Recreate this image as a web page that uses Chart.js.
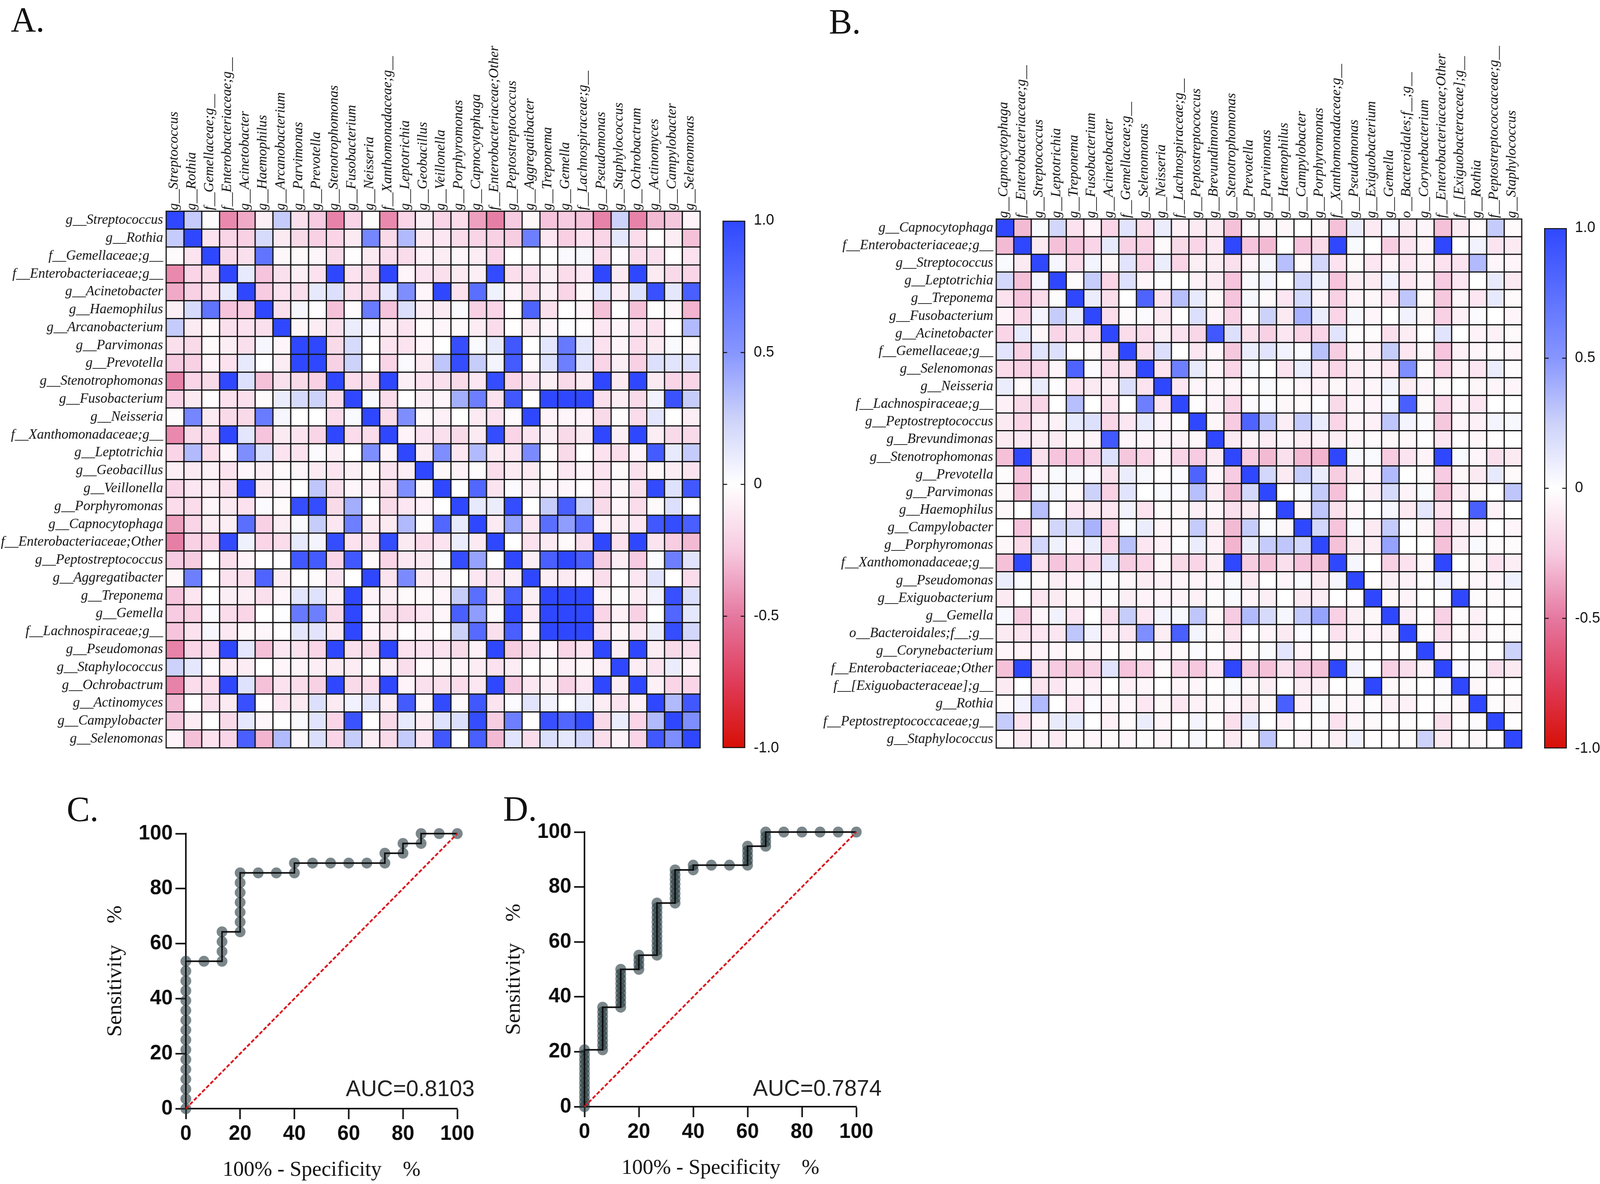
<!DOCTYPE html>
<html><head><meta charset="utf-8">
<script src="https://cdn.jsdelivr.net/npm/chart.js@4"></script>
<style>
html,body{margin:0;padding:0;background:#fff;overflow:hidden}
#page{position:absolute;left:0;top:0;width:4150px;height:3031px;transform-origin:0 0;background:#fff}
canvas{position:absolute;display:block}
.t{position:absolute;white-space:pre;line-height:1;color:#111}
.p{font:90px "Liberation Serif"}
.a{font:58px "Liberation Sans";color:#222}
</style></head><body>
<div id="page">
<div class="t p" style="left:28px;top:-1px">A.</div>
<div class="t p" style="left:2150px;top:4px">B.</div>
<div class="t p" style="left:173px;top:2020px">C.</div>
<div class="t p" style="left:1305px;top:2019px">D.</div>
<div class="t a" style="left:897px;top:2752px">AUC=0.8103</div>
<div class="t a" style="left:1953px;top:2751px">AUC=0.7874</div>
</div>
<script>
const labelsA=["g__Streptococcus","g__Rothia","f__Gemellaceae;g__","f__Enterobacteriaceae;g__","g__Acinetobacter","g__Haemophilus","g__Arcanobacterium","g__Parvimonas","g__Prevotella","g__Stenotrophomonas","g__Fusobacterium","g__Neisseria","f__Xanthomonadaceae;g__","g__Leptotrichia","g__Geobacillus","g__Veillonella","g__Porphyromonas","g__Capnocytophaga","f__Enterobacteriaceae;Other","g__Peptostreptococcus","g__Aggregatibacter","g__Treponema","g__Gemella","f__Lachnospiraceae;g__","g__Pseudomonas","g__Staphylococcus","g__Ochrobactrum","g__Actinomyces","g__Campylobacter","g__Selenomonas"];
const labelsB=["g__Capnocytophaga","f__Enterobacteriaceae;g__","g__Streptococcus","g__Leptotrichia","g__Treponema","g__Fusobacterium","g__Acinetobacter","f__Gemellaceae;g__","g__Selenomonas","g__Neisseria","f__Lachnospiraceae;g__","g__Peptostreptococcus","g__Brevundimonas","g__Stenotrophomonas","g__Prevotella","g__Parvimonas","g__Haemophilus","g__Campylobacter","g__Porphyromonas","f__Xanthomonadaceae;g__","g__Pseudomonas","g__Exiguobacterium","g__Gemella","o__Bacteroidales;f__;g__","g__Corynebacterium","f__Enterobacteriaceae;Other","f__[Exiguobacteraceae];g__","g__Rothia","f__Peptostreptococcaceae;g__","g__Staphylococcus"];
// upper triangles of the two correlation matrices
const upperA=[
[1,.28,-.02,-.45,-.35,-.08,.28,-.15,-.25,-.47,-.2,-.02,-.45,-.2,-.08,-.2,-.17,-.38,-.48,-.25,-.04,-.27,-.25,-.27,-.47,.25,-.47,-.3,-.26,-.06],
[1,-.13,-.2,-.22,.2,-.1,-.18,-.22,-.2,-.1,.6,-.18,.35,-.1,-.12,-.17,-.2,-.22,-.24,.65,-.12,-.23,-.14,-.2,.13,-.17,0,-.09,-.28],
[1,-.18,-.15,.72,-.04,-.03,-.05,-.18,-.01,-.1,-.17,-.17,-.07,-.09,-.05,-.09,-.2,0,0,0,.02,.04,-.17,.01,-.17,-.15,0,-.14],
[1,.12,-.27,-.15,-.08,-.14,1,-.14,-.18,1,-.05,-.13,-.15,-.1,-.08,.98,-.16,-.14,-.08,-.17,-.11,1,-.1,1,-.1,-.18,-.2],
[1,-.25,-.14,-.15,.12,.17,-.15,-.18,.14,.55,-.05,1,-.14,.75,.08,-.06,-.15,-.08,-.2,-.04,.14,-.09,.16,.95,.13,.85],
[1,-.15,.05,.01,-.28,-.03,.67,-.27,.18,-.08,-.1,.02,-.22,-.2,-.01,.82,-.15,0,-.05,-.28,0,-.28,-.01,-.05,-.32],
[1,-.05,-.09,-.15,.1,.05,-.1,-.13,-.03,-.05,-.03,-.09,-.17,-.01,-.09,-.05,.01,-.01,-.12,-.05,-.14,-.14,0,.35],
[1,1,-.18,.2,0,-.13,-.13,-.05,0,.96,.03,.12,.9,0,.14,.68,.13,-.14,-.05,-.17,-.1,.03,-.03],
[1,-.22,.25,0,-.2,.02,-.1,.3,.97,.27,.06,.88,-.03,.16,.65,.15,-.2,-.08,-.22,.17,.15,.18],
[1,-.17,-.17,1,-.08,-.13,-.15,-.18,-.12,.97,-.2,-.13,-.08,-.18,-.1,1,-.1,1,-.1,-.2,-.2],
[1,.03,-.17,0,-.08,-.05,.4,.65,-.14,.9,0,1,1,1,-.15,-.09,-.18,.07,.93,.27],
[1,-.17,.55,-.04,-.07,0,-.1,-.14,-.03,1,-.06,-.05,-.06,-.18,-.02,-.17,.14,0,-.08],
[1,-.06,-.13,-.15,-.18,-.1,.97,-.2,-.13,-.08,-.18,-.1,1,-.08,1,-.09,-.18,-.18],
[1,-.09,.55,-.12,.35,-.1,-.12,.57,-.03,-.18,-.01,-.14,-.16,-.06,.88,.12,.28],
[1,-.04,-.07,-.02,-.17,-.1,-.1,-.03,-.12,-.06,-.13,-.03,-.15,-.04,-.09,-.13],
[1,0,.8,-.13,.02,-.07,-.05,-.05,-.01,-.14,-.04,-.15,.98,.16,.9],
[1,.12,.1,.97,0,.27,.85,.25,-.18,-.05,-.17,-.03,.17,0],
[1,-.1,.45,-.12,.75,.47,.78,-.07,-.09,-.12,.9,.97,.85],
[1,0,-.14,-.1,-.03,-.15,1,-.14,1,-.13,-.24,-.3],
[1,-.08,.85,1,.85,-.24,-.09,-.25,.02,.65,.15],
[1,-.08,-.1,-.05,-.16,0,-.12,.15,0,-.17],
[1,1,1,-.06,-.02,-.09,.07,.95,.18],
[1,1,-.2,-.07,-.22,0,.8,.13],
[1,-.13,-.04,-.12,.1,.97,.22],
[1,-.08,1,-.09,-.18,-.16],
[1,-.09,-.13,.1,-.06],
[1,-.07,-.2,-.2],
[1,.35,.9],
[1,.55],
[1]];
const upperB=[
[1,-.3,.03,.22,-.14,-.06,-.2,.15,-.17,.1,-.07,-.1,-.1,-.28,-.02,-.04,-.04,0,-.04,-.28,.1,-.1,.04,-.1,-.05,-.28,-.1,-.03,.28,-.03],
[1,-.1,-.28,-.27,-.2,.12,-.22,-.22,-.03,-.18,-.2,-.11,1,-.27,-.3,0,-.27,-.18,1,.03,0,-.24,-.13,-.06,1,0,.07,-.13,-.1],
[1,.05,-.17,.06,-.04,.15,-.2,.1,-.2,-.08,-.09,-.15,-.06,.05,.33,-.03,.22,-.14,-.03,-.12,-.05,-.12,-.06,-.14,-.13,.35,-.05,-.05],
[1,-.02,.27,-.2,.17,-.05,.01,0,-.07,-.1,-.27,.03,.06,0,.23,.08,-.27,-.09,-.1,.07,-.12,-.05,-.25,-.12,0,.11,-.1],
[1,.1,-.16,0,.82,-.13,.33,.12,-.04,-.27,.04,-.03,-.12,.2,-.05,-.22,-.06,-.04,-.12,.3,-.03,-.26,-.05,-.12,.12,-.03],
[1,-.17,-.03,.02,-.1,0,.17,-.06,-.22,.02,.25,-.1,.38,.1,-.2,.04,-.05,0,.07,-.04,-.22,-.07,.02,0,-.05],
[1,-.17,-.17,-.08,-.14,-.19,.9,.17,-.15,-.22,-.12,-.2,-.2,.15,-.02,-.02,-.15,-.09,-.01,.15,0,-.06,-.07,-.03],
[1,-.15,.18,0,-.12,-.05,-.26,.1,.15,.07,.03,.32,-.24,-.05,-.08,.27,-.12,-.04,-.27,-.07,-.05,-.03,-.05],
[1,-.13,.65,.12,-.05,-.2,.04,0,-.13,.1,-.12,-.2,-.09,-.06,-.12,.55,-.02,-.2,-.05,-.12,.1,-.02],
[1,-.12,-.05,-.05,-.05,-.01,.03,-.02,-.05,-.07,-.04,-.07,-.05,.06,-.09,-.05,-.03,0,-.04,-.05,-.05],
[1,.01,-.06,-.2,.02,.02,-.04,-.03,.01,-.18,-.05,-.06,.04,.85,-.03,-.2,-.05,-.12,0,0],
[1,-.04,-.25,.82,.33,-.08,.28,.1,-.2,-.06,-.07,.3,.06,.02,-.26,-.05,-.07,.06,.04],
[1,-.1,-.05,-.09,-.05,-.09,-.07,-.09,-.05,-.02,-.04,-.04,0,-.12,-.01,-.04,-.01,0],
[1,-.25,-.3,-.15,-.3,-.32,1,.04,.03,-.25,-.13,-.06,1,.03,-.05,-.15,-.1],
[1,.22,-.1,.27,.1,-.24,-.1,-.05,.35,0,-.02,-.25,-.04,-.1,.12,-.03],
[1,0,.03,.28,-.28,0,-.08,.2,-.06,.03,-.28,-.08,-.04,0,.3],
[1,-.04,.3,-.15,-.05,0,.05,-.1,.14,-.14,0,.85,-.07,0],
[1,.22,-.27,.03,-.1,.28,.02,-.05,-.25,-.09,-.07,0,-.05],
[1,-.28,-.1,-.09,.45,0,0,-.28,-.08,.03,-.02,-.02],
[1,.05,0,-.22,-.14,-.04,1,0,-.04,-.14,-.08],
[1,-.01,-.08,-.07,-.02,.07,-.02,-.05,-.05,.08],
[1,-.04,-.06,0,.01,1,-.02,-.03,-.01],
[1,-.08,-.01,-.22,-.03,-.07,0,-.01],
[1,-.02,-.16,-.03,-.07,-.02,-.02],
[1,-.06,0,-.01,0,.25],
[1,.02,-.02,-.15,-.1],
[1,-.04,-.01,-.01],
[1,-.02,-.04],
[1,-.01],
[1]];
const scaleStops=[-1,-.75,-.5,-.25,0,.25,.5,1];
const scaleColors=[[215,15,5],[224,60,90],[229,120,160],[247,203,225],[255,255,255],[205,210,250],[135,150,255],[47,72,255]];
const barTicks=[-1,-.5,0,.5,1];
const barTickText=["-1.0","-0.5","0","0.5","1.0"];
const rocCx=[0,0,0,0,0,0,0,0,0,0,0,0,0,0,0,0,6.67,13.33,13.33,13.33,13.33,20,20,20,20,20,20,20,26.67,33.33,40,40,46.67,53.33,60,66.67,73.33,73.33,80,80,86.67,86.67,93.33,100];
const rocCy=[0,3.57,7.14,10.71,14.29,17.86,21.43,25,28.57,32.14,35.71,39.29,42.86,46.43,50,53.57,53.57,53.57,57.14,60.71,64.29,64.29,67.86,71.43,75,78.57,82.14,85.71,85.71,85.71,85.71,89.29,89.29,89.29,89.29,89.29,89.29,92.86,92.86,96.43,96.43,100,100,100];
const rocDx=[0,0,0,0,0,0,0,0,0,0,0,0,0,6.67,6.67,6.67,6.67,6.67,6.67,6.67,6.67,6.67,6.67,13.33,13.33,13.33,13.33,13.33,13.33,13.33,13.33,13.33,20,20,20,20,26.67,26.67,26.67,26.67,26.67,26.67,26.67,26.67,26.67,26.67,26.67,26.67,33.33,33.33,33.33,33.33,33.33,33.33,33.33,33.33,40,40,46.67,53.33,60,60,60,60,60,66.67,66.67,66.67,66.67,73.33,80,86.67,93.33,100];
const rocDy=[0,1.72,3.45,5.17,6.9,8.62,10.34,12.07,13.79,15.52,17.24,18.97,20.69,20.69,22.41,24.14,25.86,27.59,29.31,31.03,32.76,34.48,36.21,36.21,37.93,39.66,41.38,43.1,44.83,46.55,48.28,50,50,51.72,53.45,55.17,55.17,56.9,58.62,60.34,62.07,63.79,65.52,67.24,68.97,70.69,72.41,74.14,74.14,75.86,77.59,79.31,81.03,82.76,84.48,86.21,86.21,87.93,87.93,87.93,87.93,89.66,91.38,93.1,94.83,94.83,96.55,98.28,100,100,100,100,100,100];
const diagonalX=[0,100], diagonalY=[0,100];

// the browser may clamp the window below the 4150 px page: fit the page to whatever width it really has
const page=document.getElementById("page");
page.style.transform=`scale(${Math.min(1,window.innerWidth/4150)},1)`;

function colorOf(v){
  for(let k=1;k<scaleStops.length;k++){
    if(v<=scaleStops[k]){
      const t=(v-scaleStops[k-1])/(scaleStops[k]-scaleStops[k-1]);
      const a=scaleColors[k-1],b=scaleColors[k];
      return `rgb(${a.map((c,n)=>Math.round(c+(b[n]-c)*t)).join(",")})`;
    }
  }
  return "rgb(47,72,255)";
}
function mk(left,top,w,h){
  const c=document.createElement("canvas");
  c.width=w;c.height=h;c.style.left=left+"px";c.style.top=top+"px";c.style.width=w+"px";c.style.height=h+"px";
  page.appendChild(c);return c.getContext("2d");
}
const base={responsive:false,animation:false,devicePixelRatio:1,events:[],plugins:{legend:{display:false},tooltip:{enabled:false},title:{display:false}}};
const labelFont={family:"Liberation Serif",style:"italic",size:35.7};

function heat(box,labels,upper){
  const cells=[];
  labels.forEach((ry,i)=>labels.forEach((rx,j)=>{
    const v=j>=i?upper[i][j-i]:upper[j][i-j];
    cells.push({x:rx,y:ry,v});
  }));
  const ctx=mk(box.l,box.t,box.w,box.h);
  new Chart(ctx,{type:"scatter",data:{datasets:[{data:cells,clip:false,pointStyle:"rect",
      pointBackgroundColor:c=>colorOf(c.raw.v),pointBorderColor:"#111",pointBorderWidth:3,
      pointRadius:box.cell/Math.SQRT2}]},
    options:{...base,layout:{padding:{left:0,top:0,right:box.w-box.r,bottom:box.h-box.b}},
      scales:{
        x:{type:"category",labels,position:"top",offset:true,grid:{display:false,drawTicks:false},border:{display:false},
           ticks:{font:labelFont,color:"#111",autoSkip:false,minRotation:90,maxRotation:90,padding:3,labelOffset:40},afterFit:s=>{s.height=box.py}},
        y:{type:"category",labels,position:"left",offset:true,grid:{display:false,drawTicks:false},border:{display:false},
           ticks:{font:labelFont,color:"#111",autoSkip:false,padding:8},afterFit:s=>{s.width=box.px}}
      }}});
}
function colorBar(box){
  const inward={id:"inward",afterDatasetsDraw(ch){
    const y=ch.scales.y,a=ch.chartArea,g=ch.ctx;g.save();g.strokeStyle="#111";g.lineWidth=2.5;
    barTicks.slice(1,-1).forEach(t=>{const p=y.getPixelForValue(t);
      g.beginPath();g.moveTo(a.left,p);g.lineTo(a.left+12,p);g.moveTo(a.right-12,p);g.lineTo(a.right,p);g.stroke();});
    g.restore();}};
  const ctx=mk(box.l,box.t,box.w,box.h);
  new Chart(ctx,{type:"bar",plugins:[inward],data:{labels:["r"],datasets:[{data:[[barTicks[0],barTicks[4]]],
      categoryPercentage:1,barPercentage:1,borderWidth:3,borderColor:"#111",borderSkipped:false,
      backgroundColor:c=>{
        const ch=c.chart;if(!ch.chartArea)return "#fff";
        const y=ch.scales.y,g=ch.ctx.createLinearGradient(0,y.getPixelForValue(-1),0,y.getPixelForValue(1));
        scaleStops.forEach(s=>g.addColorStop((s+1)/2,colorOf(s)));return g;}}]},
    options:{...base,layout:{padding:{left:box.left,top:box.top,right:0,bottom:box.h-box.bottom}},
      scales:{
        x:{display:false},
        y:{position:"right",min:-1,max:1,grid:{display:false,drawTicks:false},border:{display:false},
           afterBuildTicks:s=>{s.ticks=barTicks.map(value=>({value}));},
           ticks:{font:{family:"Liberation Sans",size:38},color:"#111",padding:box.pad,
             callback:v=>barTickText[barTicks.indexOf(v)]},
           afterFit:s=>{s.width=box.w-box.barRight}}
      }}});
}
function roc(box,xs,ys){
  const pts=xs.map((x,i)=>({x,y:ys[i]}));
  const ctx=mk(box.l,box.t,box.w,box.h);
  const axis=(title,extra)=>({type:"linear",min:0,max:100,
    grid:{display:true,drawOnChartArea:false,drawTicks:true,tickLength:27,tickWidth:4,tickColor:"#0d0d0d",color:"#0d0d0d"},
    border:{display:true,width:4,color:"#0d0d0d"},
    ticks:{stepSize:20,font:{family:"Liberation Sans",weight:"bold",size:53},color:"#0d0d0d",...extra},
    title:{display:true,text:title,color:"#111",font:{family:"Liberation Serif",size:55,lineHeight:1.2}}});
  const sx=axis("100% - Specificity\u00a0\u00a0\u00a0\u00a0%",{padding:7,maxRotation:0});
  sx.title.padding={top:0,bottom:box.xtp};sx.afterFit=s=>{s.height=box.py};
  const sy=axis("Sensitivity\u00a0\u00a0\u00a0\u00a0%",{padding:7});
  sy.title.padding={top:box.ytp,bottom:0};sy.afterFit=s=>{s.width=box.px};
  new Chart(ctx,{type:"scatter",data:{datasets:[
     {data:diagonalX.map((x,i)=>({x,y:diagonalY[i]})),showLine:true,pointRadius:0,borderColor:"#d8141c",borderWidth:4.5,borderDash:[10,5],clip:false,order:1},
     {data:pts,showLine:true,pointRadius:0,borderColor:"#0d0d0d",borderWidth:4,clip:false,order:2,borderJoinStyle:"miter"},
     {data:pts,showLine:false,pointRadius:14,pointBackgroundColor:"rgba(35,55,62,.6)",pointBorderWidth:0,clip:false,order:3}
   ]},
   options:{...base,layout:{padding:{left:0,top:box.pt,right:box.w-box.r,bottom:0}},scales:{x:sx,y:sy}}});
}
heat({l:0,t:0,w:1880,h:1950,r:1816,b:1925,px:431,py:541,cell:46.17},labelsA,upperA);
heat({l:2100,t:0,w:1910,h:1950,r:1847,b:1924,px:484,py:561,cell:45.43},labelsB,upperB);
colorBar({l:1860,t:520,w:170,h:1440,left:14,top:21,bottom:1405,barRight:73,pad:22});
colorBar({l:3991,t:540,w:159,h:1420,left:14,top:21,bottom:1384,barRight:73,pad:21});
roc({l:250,t:2060,w:1050,h:971,r:936,pt:74,px:232,py:193,xtp:2,ytp:17},rocCx,rocCy);
roc({l:1290,t:2060,w:1050,h:971,r:931,pt:70,px:226,py:198,xtp:7,ytp:11},rocDx,rocDy);
</script>
</body></html>
